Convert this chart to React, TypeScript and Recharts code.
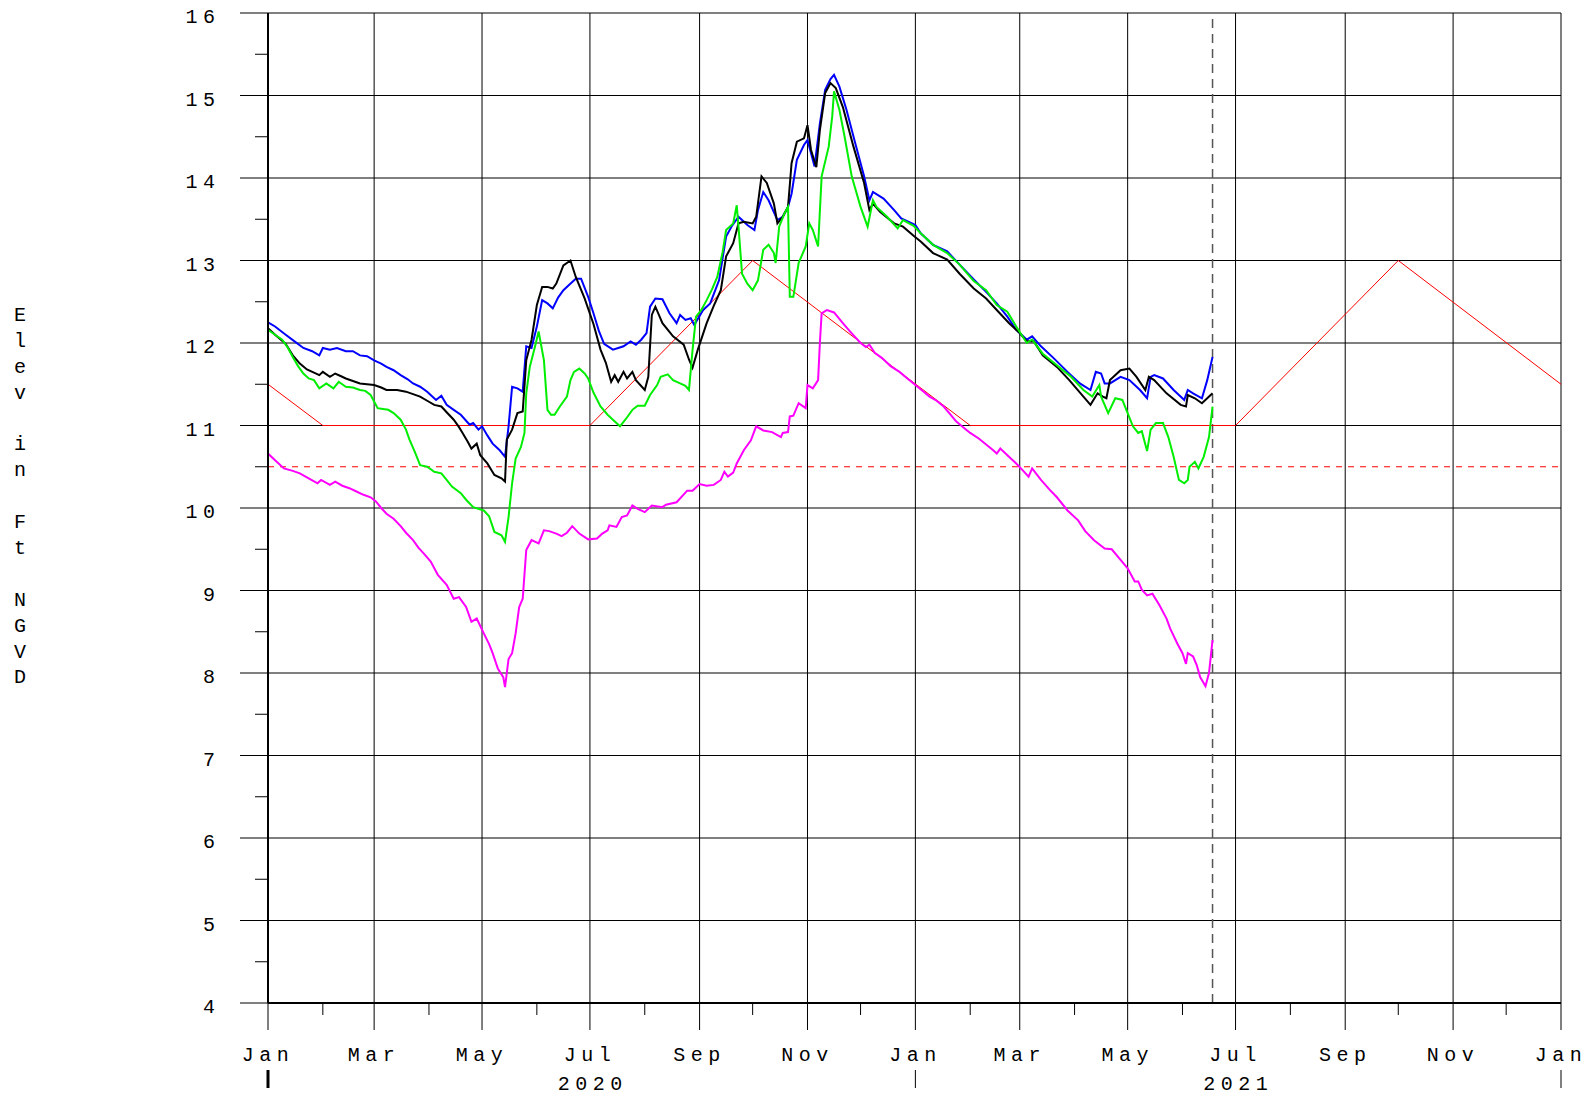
import { CartesianGrid, Line, LineChart, ReferenceLine, XAxis, YAxis } from "recharts";

// days counted from 1 Jan 2020
const START = Date.UTC(2020, 0, 1);
const dayOf = (y: number, m: number, d = 1) =>
  Math.round((Date.UTC(y, m, d) - START) / 86400000);

const monthNames = ["Jan", "Feb", "Mar", "Apr", "May", "Jun", "Jul", "Aug", "Sep", "Oct", "Nov", "Dec"];
const yearLabels = ["2020", "2021"];
const monthTicks = Array.from({ length: 25 }, (_, i) => dayOf(2020, i));
const yTicks = Array.from({ length: 25 }, (_, i) => 4 + i / 2);
const yGrid = [5, 6, 7, 8, 9, 10, 11, 12, 13, 14, 15, 16];
const xGrid = monthTicks.filter((_, i) => i % 2 === 0);
const axisTitle = ["E", "l", "e", "v", "", "i", "n", "", "F", "t", "", "N", "G", "V", "D"];

const lastObs = dayOf(2021, 5, 18);
const targetLevel = 10.5;

// regulation schedule
const schedule: [number, number][] = [
  [0, 11.5], [31, 11], [182, 11], [274, 13], [397, 11], [547, 11], [639, 13], [731, 11.5],
];

const blue: [number, number][] = [
  [0, 12.25], [4, 12.2], [10, 12.1], [15, 12.02], [20, 11.94], [25, 11.9], [29, 11.85], [31, 11.94],
  [35, 11.92], [39, 11.94], [44, 11.9], [48, 11.9], [52, 11.85], [56, 11.84], [60, 11.79], [64, 11.75],
  [67, 11.71], [71, 11.67], [75, 11.61], [79, 11.56], [82, 11.51], [86, 11.47], [90, 11.41], [95, 11.31],
  [98, 11.36], [101, 11.25], [105, 11.19], [109, 11.13], [114, 11.01], [116, 11.03], [119, 10.95], [121, 10.99],
  [124, 10.88], [127, 10.78], [131, 10.7], [134, 10.62], [136, 10.99], [138, 11.47], [141, 11.45], [144, 11.41],
  [146, 11.96], [149, 11.94], [152, 12.2], [155, 12.52], [158, 12.48], [161, 12.42], [164, 12.55], [167, 12.64],
  [170, 12.7], [174, 12.78], [177, 12.78], [181, 12.56], [184, 12.36], [187, 12.15], [190, 11.99], [195, 11.92],
  [198, 11.94], [201, 11.96], [205, 12.02], [208, 11.98], [211, 12.04], [214, 12.12], [216, 12.44], [219, 12.54],
  [223, 12.53], [227, 12.36], [231, 12.24], [233, 12.34], [236, 12.28], [239, 12.3], [241, 12.22], [246, 12.4],
  [250, 12.48], [255, 12.76], [259, 13.29], [262, 13.41], [266, 13.53], [268, 13.49], [271, 13.43], [275, 13.37],
  [277, 13.61], [280, 13.83], [283, 13.73], [288, 13.49], [291, 13.53], [294, 13.65], [296, 13.81], [299, 14.22],
  [303, 14.4], [305, 14.46], [307, 14.3], [309, 14.14], [312, 14.66], [315, 15.07], [318, 15.2], [320, 15.25],
  [323, 15.11], [327, 14.83], [332, 14.42], [337, 14.02], [340, 13.73], [342, 13.83], [348, 13.75], [354, 13.61],
  [358, 13.51], [362, 13.47], [366, 13.43], [369, 13.33], [376, 13.19], [384, 13.11], [391, 12.95], [399, 12.77],
  [406, 12.62], [412, 12.48], [418, 12.32], [423, 12.16], [429, 12.04], [432, 12.08], [437, 11.96], [444, 11.82],
  [452, 11.65], [459, 11.51], [465, 11.43], [468, 11.65], [471, 11.63], [473, 11.51], [476, 11.51], [482, 11.59],
  [487, 11.55], [493, 11.43], [497, 11.33], [499, 11.59], [501, 11.61], [506, 11.57], [512, 11.43], [518, 11.31],
  [520, 11.43], [523, 11.39], [528, 11.33], [531, 11.55], [534, 11.83],
];

const black: [number, number][] = [
  [0, 12.18], [4, 12.1], [10, 11.99], [14, 11.85], [18, 11.75], [22, 11.68], [26, 11.64], [29, 11.61],
  [31, 11.65], [35, 11.59], [38, 11.63], [41, 11.6], [44, 11.57], [48, 11.54], [52, 11.51], [56, 11.5],
  [60, 11.49], [64, 11.46], [67, 11.43], [73, 11.43], [78, 11.41], [82, 11.38], [86, 11.35], [90, 11.3],
  [94, 11.25], [98, 11.23], [101, 11.16], [105, 11.07], [108, 10.98], [110, 10.91], [113, 10.8], [115, 10.72],
  [118, 10.78], [120, 10.64], [124, 10.54], [128, 10.4], [132, 10.36], [134, 10.32], [135, 10.83], [138, 10.95],
  [141, 11.15], [144, 11.17], [146, 11.79], [149, 12.04], [152, 12.46], [155, 12.68], [158, 12.68], [161, 12.66],
  [163, 12.72], [167, 12.94], [171, 13.0], [174, 12.8], [179, 12.54], [184, 12.23], [188, 11.92], [191, 11.76],
  [194, 11.53], [196, 11.61], [198, 11.53], [201, 11.65], [203, 11.57], [206, 11.65], [208, 11.55], [213, 11.43],
  [215, 11.59], [217, 12.34], [219, 12.44], [223, 12.24], [229, 12.08], [235, 11.98], [238, 11.8], [240, 11.7],
  [243, 11.92], [248, 12.24], [252, 12.45], [256, 12.64], [259, 13.05], [263, 13.21], [266, 13.45], [269, 13.47],
  [274, 13.45], [276, 13.53], [279, 14.02], [282, 13.94], [286, 13.69], [288, 13.45], [291, 13.53], [294, 13.65],
  [296, 14.18], [299, 14.44], [303, 14.48], [305, 14.64], [307, 14.34], [310, 14.13], [312, 14.58], [315, 15.03],
  [318, 15.15], [321, 15.09], [325, 14.86], [331, 14.38], [337, 13.94], [340, 13.61], [342, 13.69], [346, 13.59],
  [354, 13.45], [359, 13.41], [365, 13.3], [369, 13.23], [376, 13.09], [384, 13.01], [391, 12.84], [399, 12.66],
  [406, 12.54], [412, 12.4], [419, 12.24], [425, 12.12], [429, 12.02], [433, 12.02], [438, 11.85], [446, 11.71],
  [453, 11.55], [461, 11.35], [465, 11.25], [469, 11.39], [472, 11.35], [474, 11.33], [476, 11.55], [482, 11.67],
  [487, 11.69], [491, 11.59], [496, 11.43], [498, 11.59], [501, 11.55], [508, 11.39], [516, 11.25], [519, 11.23],
  [520, 11.37], [524, 11.33], [528, 11.27], [531, 11.33], [534, 11.39],
];

const green: [number, number][] = [
  [0, 12.16], [4, 12.1], [8, 12.04], [11, 11.95], [14, 11.83], [17, 11.72], [20, 11.63], [23, 11.57],
  [26, 11.55], [29, 11.45], [33, 11.51], [37, 11.45], [40, 11.53], [44, 11.47], [48, 11.46], [52, 11.43],
  [55, 11.42], [58, 11.37], [62, 11.21], [65, 11.2], [68, 11.19], [71, 11.15], [75, 11.07], [78, 10.95],
  [80, 10.83], [83, 10.68], [86, 10.52], [90, 10.5], [94, 10.44], [98, 10.42], [101, 10.34], [104, 10.26],
  [109, 10.18], [112, 10.1], [116, 10.01], [122, 9.97], [125, 9.9], [128, 9.71], [132, 9.67], [134, 9.59],
  [136, 9.89], [138, 10.3], [140, 10.6], [143, 10.74], [145, 10.91], [146, 11.39], [148, 11.71], [151, 11.96],
  [153, 12.14], [156, 11.79], [158, 11.19], [160, 11.13], [162, 11.13], [165, 11.23], [169, 11.35], [171, 11.55],
  [173, 11.65], [176, 11.69], [179, 11.63], [181, 11.57], [184, 11.4], [188, 11.23], [192, 11.13], [195, 11.07],
  [199, 10.99], [202, 11.07], [206, 11.19], [209, 11.24], [213, 11.24], [216, 11.37], [220, 11.49], [222, 11.59],
  [226, 11.62], [229, 11.55], [233, 11.51], [236, 11.48], [238, 11.43], [240, 11.91], [242, 12.32], [245, 12.4],
  [248, 12.52], [251, 12.65], [254, 12.8], [257, 13.1], [259, 13.37], [263, 13.45], [265, 13.67], [266, 13.41],
  [268, 12.84], [271, 12.72], [274, 12.64], [277, 12.76], [280, 13.13], [283, 13.19], [286, 13.09], [287, 12.97],
  [289, 13.41], [292, 13.57], [294, 13.65], [295, 12.56], [297, 12.56], [300, 12.97], [304, 13.17], [306, 13.45],
  [308, 13.37], [311, 13.17], [313, 14.02], [317, 14.38], [319, 14.75], [320, 15.05], [323, 14.83], [326, 14.5],
  [330, 14.02], [335, 13.65], [339, 13.41], [342, 13.73], [344, 13.65], [350, 13.53], [356, 13.39], [359, 13.49],
  [365, 13.42], [369, 13.33], [376, 13.19], [384, 13.09], [391, 12.95], [399, 12.75], [406, 12.64], [412, 12.46],
  [418, 12.38], [423, 12.2], [429, 12.0], [432, 12.04], [438, 11.87], [446, 11.73], [454, 11.59], [461, 11.43],
  [466, 11.35], [470, 11.49], [471, 11.35], [475, 11.15], [479, 11.33], [483, 11.31], [486, 11.15], [489, 10.99],
  [492, 10.91], [494, 10.93], [497, 10.69], [499, 10.95], [502, 11.03], [506, 11.03], [509, 10.86], [512, 10.62],
  [515, 10.34], [518, 10.3], [520, 10.34], [521, 10.5], [524, 10.56], [526, 10.48], [529, 10.62], [532, 10.86],
  [534, 11.23],
];

const magenta: [number, number][] = [
  [0, 10.66], [4, 10.58], [9, 10.48], [14, 10.45], [18, 10.42], [23, 10.36], [28, 10.3], [30, 10.34],
  [35, 10.28], [38, 10.32], [42, 10.27], [46, 10.24], [50, 10.2], [54, 10.16], [58, 10.13], [61, 10.08],
  [64, 10.0], [67, 9.93], [71, 9.87], [75, 9.78], [78, 9.7], [82, 9.61], [85, 9.52], [88, 9.45],
  [92, 9.35], [96, 9.19], [101, 9.07], [105, 8.9], [108, 8.92], [112, 8.8], [115, 8.62], [118, 8.66],
  [122, 8.48], [125, 8.35], [127, 8.24], [130, 8.05], [133, 7.95], [134, 7.83], [136, 8.17], [138, 8.24],
  [140, 8.48], [142, 8.8], [144, 8.9], [146, 9.49], [149, 9.61], [153, 9.57], [156, 9.73], [159, 9.72],
  [163, 9.69], [166, 9.66], [169, 9.7], [172, 9.78], [176, 9.69], [181, 9.62], [186, 9.63], [189, 9.69],
  [192, 9.73], [193, 9.79], [197, 9.77], [200, 9.89], [203, 9.91], [206, 10.03], [209, 9.99], [213, 9.95],
  [217, 10.03], [223, 10.01], [225, 10.04], [231, 10.07], [237, 10.21], [240, 10.21], [244, 10.29], [248, 10.27],
  [252, 10.28], [256, 10.34], [258, 10.44], [260, 10.38], [263, 10.43], [265, 10.54], [269, 10.7], [273, 10.82],
  [276, 10.99], [280, 10.94], [285, 10.92], [290, 10.86], [291, 10.91], [294, 10.92], [295, 11.11], [297, 11.12],
  [300, 11.27], [304, 11.21], [305, 11.49], [308, 11.45], [311, 11.55], [312, 12.0], [313, 12.36], [316, 12.4],
  [320, 12.37], [325, 12.24], [329, 12.14], [335, 12.0], [338, 11.95], [340, 11.98], [343, 11.88], [347, 11.82],
  [352, 11.72], [357, 11.65], [362, 11.56], [366, 11.49], [370, 11.42], [374, 11.35], [378, 11.3], [382, 11.23],
  [386, 11.13], [389, 11.05], [393, 10.98], [397, 10.91], [402, 10.84], [406, 10.77], [410, 10.7], [412, 10.66],
  [414, 10.72], [418, 10.64], [423, 10.54], [427, 10.45], [430, 10.38], [432, 10.48], [437, 10.34], [442, 10.22],
  [446, 10.13], [452, 9.97], [458, 9.85], [462, 9.72], [467, 9.61], [473, 9.51], [477, 9.5], [482, 9.37],
  [486, 9.27], [490, 9.11], [492, 9.11], [494, 9.01], [497, 8.94], [500, 8.96], [504, 8.82], [508, 8.66],
  [510, 8.54], [514, 8.36], [517, 8.24], [519, 8.11], [520, 8.24], [523, 8.2], [525, 8.1], [527, 7.95],
  [530, 7.84], [532, 8.0], [534, 8.4],
];

const toPoints = (s: [number, number][]) => s.map(([d, v]) => ({ d, v }));

const W = 1591;
const H = 1096;
const PLOT_LEFT = 268;
const AXIS_Y = 1003;
const FONT = "'Liberation Mono', 'DejaVu Sans Mono', monospace";
const FS = 20;
const LS = 5.5;

function MonthTick(props: any) {
  const { x, payload } = props;
  const i = monthTicks.indexOf(payload.value);
  const m = i % 12;
  const major = m % 2 === 0;
  return (
    <g>
      <line x1={x} x2={x} y1={AXIS_Y} y2={AXIS_Y + (major ? 27 : 12)} stroke="#000" strokeWidth={1} />
      {major && (
        <text x={x} y={1061} textAnchor="middle" fontFamily={FONT} fontSize={FS} letterSpacing={LS} fill="#000">
          {monthNames[m]}
        </text>
      )}
      {m === 6 && (
        <text x={x + LS / 2} y={1090} textAnchor="middle" fontFamily={FONT} fontSize={FS} letterSpacing={LS} fill="#000">
          {yearLabels[Math.floor(i / 12)]}
        </text>
      )}
      {m === 0 && (
        <line x1={x} x2={x} y1={1070} y2={1088} stroke="#000" strokeWidth={i === 0 ? 3 : 1} />
      )}
    </g>
  );
}

function LevelTick(props: any) {
  const { y, payload } = props;
  const v = payload.value as number;
  const major = Number.isInteger(v);
  return (
    <g>
      <line x1={PLOT_LEFT - (major ? 28 : 13)} x2={PLOT_LEFT} y1={y} y2={y} stroke="#000" strokeWidth={1} />
      {major && (
        <text x={215 + LS} y={y + 10} textAnchor="end" fontFamily={FONT} fontSize={FS} letterSpacing={LS} fill="#000">
          {String(v)}
        </text>
      )}
    </g>
  );
}

export default function App() {
  return (
    <div style={{ position: "absolute", left: 0, top: 0, width: W, height: H, background: "#fff" }}>
      <div
        style={{
          position: "absolute",
          left: 8,
          top: 303,
          width: 24,
          fontFamily: FONT,
          fontSize: FS,
          lineHeight: "25.9px",
          textAlign: "center",
          color: "#000",
        }}
      >
        {axisTitle.map((c, i) => (
          <div key={i} style={{ height: 25.9 }}>{c}</div>
        ))}
      </div>
      <LineChart width={W} height={H} margin={{ top: 13, right: 30, bottom: 0, left: 0 }}>
        <CartesianGrid horizontalValues={yGrid} verticalValues={xGrid} stroke="#000" strokeWidth={1} />
        <XAxis
          type="number"
          dataKey="d"
          domain={[0, 731]}
          ticks={monthTicks}
          interval={0}
          height={93}
          tickLine={false}
          tickSize={0}
          tick={(p: any) => <MonthTick {...p} />}
          axisLine={{ stroke: "#000", strokeWidth: 2 }}
          allowDataOverflow
        />
        <YAxis
          type="number"
          domain={[4, 16]}
          ticks={yTicks}
          interval={0}
          width={268}
          tickLine={false}
          tickSize={0}
          tick={(p: any) => <LevelTick {...p} />}
          axisLine={{ stroke: "#000", strokeWidth: 2 }}
          allowDataOverflow
        />
        <ReferenceLine y={targetLevel} stroke="#ff0000" strokeWidth={1} strokeDasharray="6 6" />
        <ReferenceLine x={lastObs} stroke="#555" strokeWidth={1.5} strokeDasharray="9 6" />
        <Line data={toPoints(schedule)} dataKey="v" stroke="#ff0000" strokeWidth={1} dot={false} isAnimationActive={false} />
        <Line data={toPoints(magenta)} dataKey="v" stroke="#ff00ff" strokeWidth={2} dot={false} isAnimationActive={false} />
        <Line data={toPoints(blue)} dataKey="v" stroke="#0000ff" strokeWidth={2} dot={false} isAnimationActive={false} />
        <Line data={toPoints(black)} dataKey="v" stroke="#000000" strokeWidth={2} dot={false} isAnimationActive={false} />
        <Line data={toPoints(green)} dataKey="v" stroke="#00ee00" strokeWidth={2} dot={false} isAnimationActive={false} />
      </LineChart>
    </div>
  );
}
